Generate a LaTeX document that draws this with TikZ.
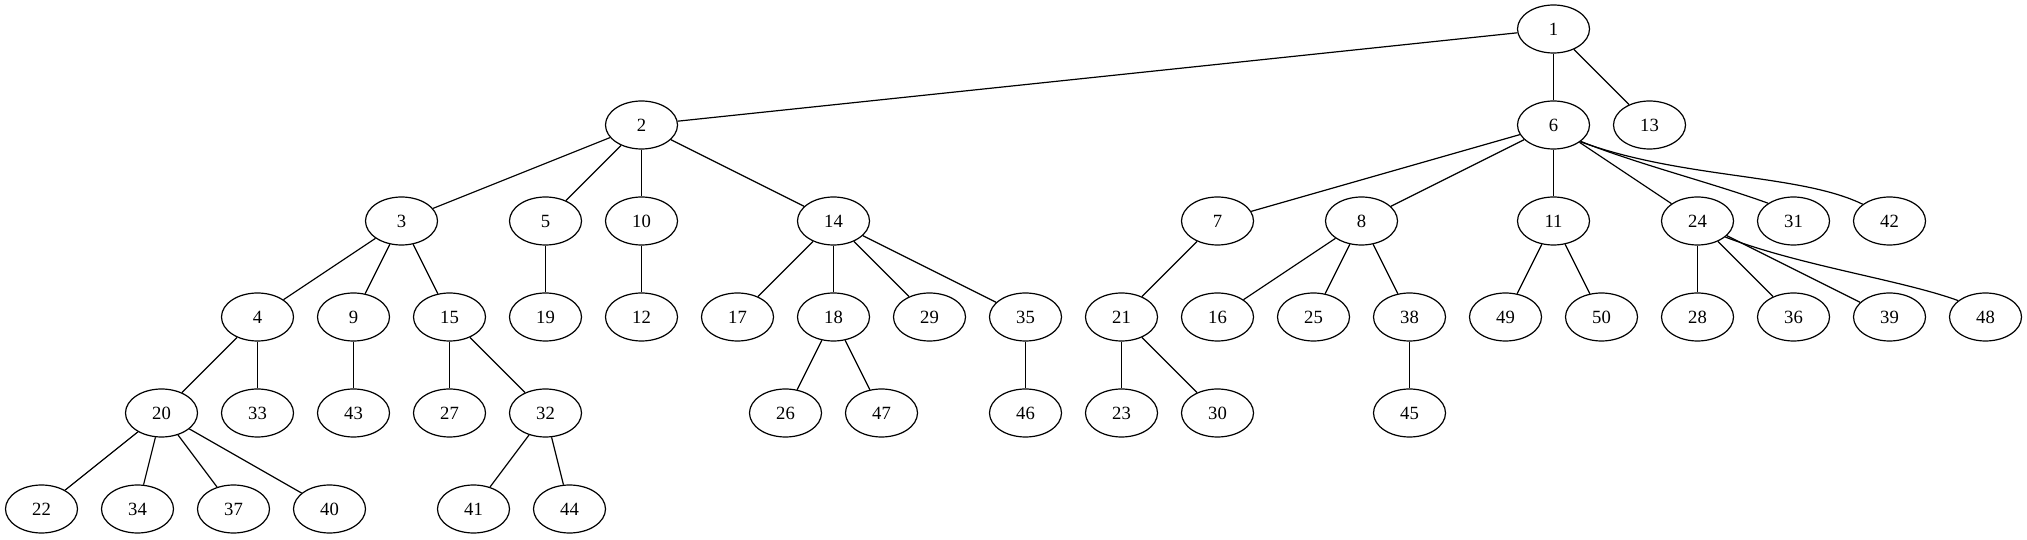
\documentclass[tikz,border=0pt]{standalone}
\usepackage{fontspec}
\setmainfont{Liberation Serif}
\usetikzlibrary{shapes.geometric}
\begin{document}
\begin{tikzpicture}[x=0.75pt,y=0.75pt,
  nd/.style={draw, ellipse, minimum width=54pt, minimum height=36pt, inner sep=0pt, line width=0.9pt, font=\fontsize{14}{16}\selectfont},
  ed/.style={line width=0.9pt}]
\useasboundingbox (0,0) rectangle (2027,539);
\begin{scope}[xshift=0.375pt]
\foreach \n/\x/\y in {
  1/1553/510,
  2/641/414, 6/1553/414, 13/1649/414,
  3/401/318, 5/545/318, 10/641/318, 14/833/318, 7/1217/318, 8/1361/318, 11/1553/318, 24/1697/318, 31/1793/318, 42/1889/318,
  4/257/222, 9/353/222, 15/449/222, 19/545/222, 12/641/222, 17/737/222, 18/833/222, 29/929/222, 35/1025/222, 21/1121/222, 16/1217/222, 25/1313/222, 38/1409/222, 49/1505/222, 50/1601/222, 28/1697/222, 36/1793/222, 39/1889/222, 48/1985/222,
  20/161/126, 33/257/126, 43/353/126, 27/449/126, 32/545/126, 26/785/126, 47/881/126, 46/1025/126, 23/1121/126, 30/1217/126, 45/1409/126,
  22/41/30, 34/137/30, 37/233/30, 40/329/30, 41/473/30, 44/569/30}
  \node[nd] (n\n) at (\x,\y) {\n};
\foreach \a/\b in {1/2, 1/6, 1/13, 2/3, 2/5, 2/10, 2/14, 6/7, 6/8, 6/11, 6/24,
  3/4, 3/9, 3/15, 5/19, 10/12, 14/17, 14/18, 14/29, 14/35, 7/21, 8/16, 8/25, 8/38,
  11/49, 11/50, 24/28, 24/36, 24/39, 4/20, 4/33, 9/43, 15/27, 15/32, 18/26, 18/47,
  35/46, 21/23, 21/30, 38/45, 20/22, 20/34, 20/37, 20/40, 32/41, 32/44}
  \draw[ed] (n\a) -- (n\b);
\draw[ed] (n6.-31) .. controls +(-22:60) and +(160:60) .. (n31.145);
\draw[ed] (n6.-32) .. controls +(-20:110) and +(154:70) .. (n42.148);
\draw[ed] (n24.-30) .. controls +(-21:80) and +(160:60) .. (n48.149);
\end{scope}
\end{tikzpicture}
\end{document}
